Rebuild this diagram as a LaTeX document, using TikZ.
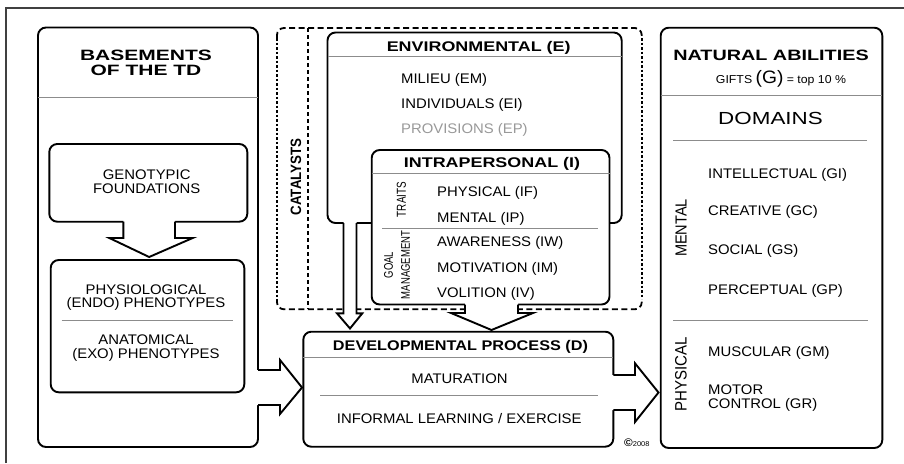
\documentclass[tikz,border=0pt]{standalone}
\usepackage{fontspec}
\setmainfont{Liberation Sans}[FakeStretch=1.07]
\newfontfamily\fHead{Liberation Sans}[FakeStretch=1.28]
\newfontfamily\fDev{Liberation Sans}[FakeStretch=1.16]
\newfontfamily\fNat{Liberation Sans}[FakeStretch=1.32]
\newfontfamily\fBase{Liberation Sans}[FakeStretch=1.4]
\newfontfamily\fNarrow{Liberation Sans}[FakeStretch=0.76]
\newfontfamily\fSide{Liberation Sans}[FakeStretch=0.91]
\newfontfamily\fCat{Liberation Sans}[FakeStretch=0.89]
\newfontfamily\fDom{Liberation Sans}[FakeStretch=1.28]
\newcommand{\fsz}[2]{\fontsize{#1}{#2}\selectfont}

% block arrow leaving a box downwards:
% #1 shaft left x, #2 shaft right x, #3 box edge y, #4 shoulder y,
% #5 left wing x, #6 right wing x, #7 tip y
\newcommand{\blkdown}[7]{%
  \fill[white] (#1,#3-1.5) -- (#1,#4) -- (#5,#4) -- ({(#1+#2)/2},#7) -- (#6,#4) -- (#2,#4) -- (#2,#3-1.5) -- cycle;
  \draw[arrowline] (#1,#3) -- (#1,#4) -- (#5,#4) -- ({(#1+#2)/2},#7) -- (#6,#4) -- (#2,#4) -- (#2,#3);
}
% block arrow leaving a box to the right:
% #1 shaft top y, #2 shaft bottom y, #3 box edge x, #4 shoulder x,
% #5 upper wing y, #6 lower wing y, #7 tip x
\newcommand{\blkright}[7]{%
  \fill[white] (#3-1.5,#1) -- (#4,#1) -- (#4,#5) -- (#7,{(#1+#2)/2}) -- (#4,#6) -- (#4,#2) -- (#3-1.5,#2) -- cycle;
  \draw[arrowline] (#3,#1) -- (#4,#1) -- (#4,#5) -- (#7,{(#1+#2)/2}) -- (#4,#6) -- (#4,#2) -- (#3,#2);
}

\begin{document}
\begin{tikzpicture}[x=1pt,y=-1pt,
  box/.style={draw=black, line width=1.9pt, rounded corners=8pt, fill=white},
  sepline/.style={draw=black!45, line width=0.9pt},
  arrowline/.style={draw=black, line width=1.9pt, line join=miter},
  frameline/.style={draw=black!75, line width=1.4pt},
  catH/.style={line width=1.8pt, dash pattern=on 6pt off 3.5pt},
  catV/.style={line width=1.8pt, dash pattern=on 2.5pt off 2pt},
  catS/.style={line width=1.5pt, dash pattern=on 4pt off 3pt},
  item/.style={anchor=base west, inner sep=0pt, font=\fsz{13.9}{15}},
  citem/.style={anchor=base, inner sep=0pt, font=\fsz{13.9}{15}},
  head/.style={anchor=base, inner sep=0pt, font=\fHead\bfseries\fsz{14}{16}},
]
\useasboundingbox (0,0) rectangle (904,463);

% outer frame
\draw[frameline] (6,463) -- (6,8) -- (904,8);

% catalysts enclosure
\draw[catH, rounded corners=7pt] (277,38) -- (277,28) -- (641.7,28) -- (641.7,38);
\draw[catH, rounded corners=7pt] (277,299) -- (277,309.3) -- (641.7,309.3) -- (641.7,299);
\draw[catV] (277,38) -- (277,299);
\draw[catV] (641.7,38) -- (641.7,299);
\draw[catS] (308,28) -- (308,309.3);

% basements of the TD
\draw[box] (38,27.5) rectangle (258,447);
\draw[sepline] (38,97) -- (258,97);
\draw[box] (49.3,144) rectangle (247.3,221.7);
\draw[box] (50.7,260) rectangle (244.3,392.3);
\draw[sepline] (61.7,320.7) -- (233.3,320.7);
\blkdown{123.3}{175}{221.7}{238}{109.3}{192.7}{257}

% developmental process
\draw[box] (303.3,331.7) rectangle (613.3,446.7);
\draw[sepline] (303.3,357.7) -- (613.3,357.7);
\draw[sepline] (320,395.7) -- (598.3,395.7);

% natural abilities
\draw[box] (660.7,27.7) rectangle (882.3,448);
\draw[sepline] (660.7,95.7) -- (882.3,95.7);
\draw[sepline] (673,140) -- (867,140);
\draw[sepline] (673,320) -- (868,320);

% arrows into and out of the developmental process
\blkright{370}{405}{258}{280}{360}{414}{302}
\blkright{375}{410}{613.3}{635}{363.3}{422}{658.5}

% environmental catalysts
\draw[box] (327.5,32.5) rectangle (621.7,223);
\draw[sepline] (327.5,56.7) -- (621.7,56.7);
\blkdown{343.5}{356.5}{223}{313.3}{337}{362.3}{328.5}

% intrapersonal catalysts
\draw[box] (371.7,150) rectangle (609.5,304.5);
\draw[sepline] (371.7,173.3) -- (609.5,173.3);
\draw[sepline] (382,228.3) -- (598,228.3);
\blkdown{465}{518}{304.5}{313}{451}{533}{330}

% ---- texts ----
\node[anchor=base, inner sep=0pt, font=\fBase\bfseries\fsz{15}{17}] (bas1) at (146,60.4) {BASEMENTS};
\node[anchor=base, inner sep=0pt, font=\fBase\bfseries\fsz{15}{17}] (bas2) at (146,75.4) {OF THE TD};
\node[citem] (geno1) at (146.7,179.9) {GENOTYPIC};
\node[citem] (geno2) at (146.7,193.9) {FOUNDATIONS};
\node[citem] (endo1) at (146,294.9) {PHYSIOLOGICAL};
\node[citem] (endo2) at (146,307.6) {(ENDO) PHENOTYPES};
\node[citem] (exo1) at (146,344.9) {ANATOMICAL};
\node[citem] (exo2) at (146,358.2) {(EXO) PHENOTYPES};

\node[rotate=90, inner sep=0pt, font=\fCat\bfseries\fsz{15}{17}] (cat) at (296,177) {CATALYSTS};

\node[head] (envh) at (478.7,51.7) {ENVIRONMENTAL (E)};
\node[item] (em) at (401,83.9) {MILIEU (EM)};
\node[item] (ei) at (401,108.9) {INDIVIDUALS (EI)};
\node[item, text=black!40] (ep) at (401,133.2) {PROVISIONS (EP)};

\node[head] (intrah) at (492,167.7) {INTRAPERSONAL (I)};
\node[rotate=90, inner sep=0pt, font=\fNarrow\fsz{13}{15}] (traits) at (401.5,199.5) {TRAITS};
\node[rotate=90, inner sep=0pt, align=center, font=\fNarrow\fsz{12.5}{17}] (goal) at (397,265) {GOAL\\MANAGEMENT};
\node[item] (if) at (437,196.6) {PHYSICAL (IF)};
\node[item] (ip) at (437,222.2) {MENTAL (IP)};
\node[item] (iw) at (437,246.6) {AWARENESS (IW)};
\node[item] (im) at (437,272.2) {MOTIVATION (IM)};
\node[item] (iv) at (437,297.2) {VOLITION (IV)};

\node[anchor=base, inner sep=0pt, font=\fDev\bfseries\fsz{14}{16}] (devh) at (460.5,350.7) {DEVELOPMENTAL PROCESS (D)};
\node[citem] (mat) at (459.5,383.2) {MATURATION};
\node[citem] (inf) at (459.2,423.9) {INFORMAL LEARNING / EXERCISE};
\node[anchor=base west, inner sep=0pt] (copy) at (624,446.5) {{\fsz{11}{11}\bfseries\textcopyright}{\fsz{7}{8}2008}};

\node[anchor=base, inner sep=0pt, font=\fNat\bfseries\fsz{15}{17}] (nath) at (771,60.1) {NATURAL ABILITIES};
\node[anchor=base, inner sep=0pt] (gifts) at (781,83.1) {{\fsz{11.5}{14}GIFTS }{\fsz{18}{20}(G)}{\fsz{11.5}{14} = top 10 \%}};
\node[anchor=base, inner sep=0pt, font=\fDom\fsz{17.5}{20}] (dom) at (770.5,124.3) {DOMAINS};
\node[rotate=90, inner sep=0pt, font=\fSide\fsz{16}{18}] (mental) at (681,228) {MENTAL};
\node[rotate=90, inner sep=0pt, font=\fSide\fsz{16.5}{18}] (physical) at (681,374) {PHYSICAL};
\node[item] (gi) at (708,178.2) {INTELLECTUAL (GI)};
\node[item] (gc) at (708,215.6) {CREATIVE (GC)};
\node[item] (gs) at (708,254.9) {SOCIAL (GS)};
\node[item] (gp) at (708,294.2) {PERCEPTUAL (GP)};
\node[item] (gm) at (708,356.6) {MUSCULAR (GM)};
\node[item] (gr1) at (708,394.9) {MOTOR};
\node[item] (gr2) at (708,408.2) {CONTROL (GR)};
\end{tikzpicture}
\end{document}
